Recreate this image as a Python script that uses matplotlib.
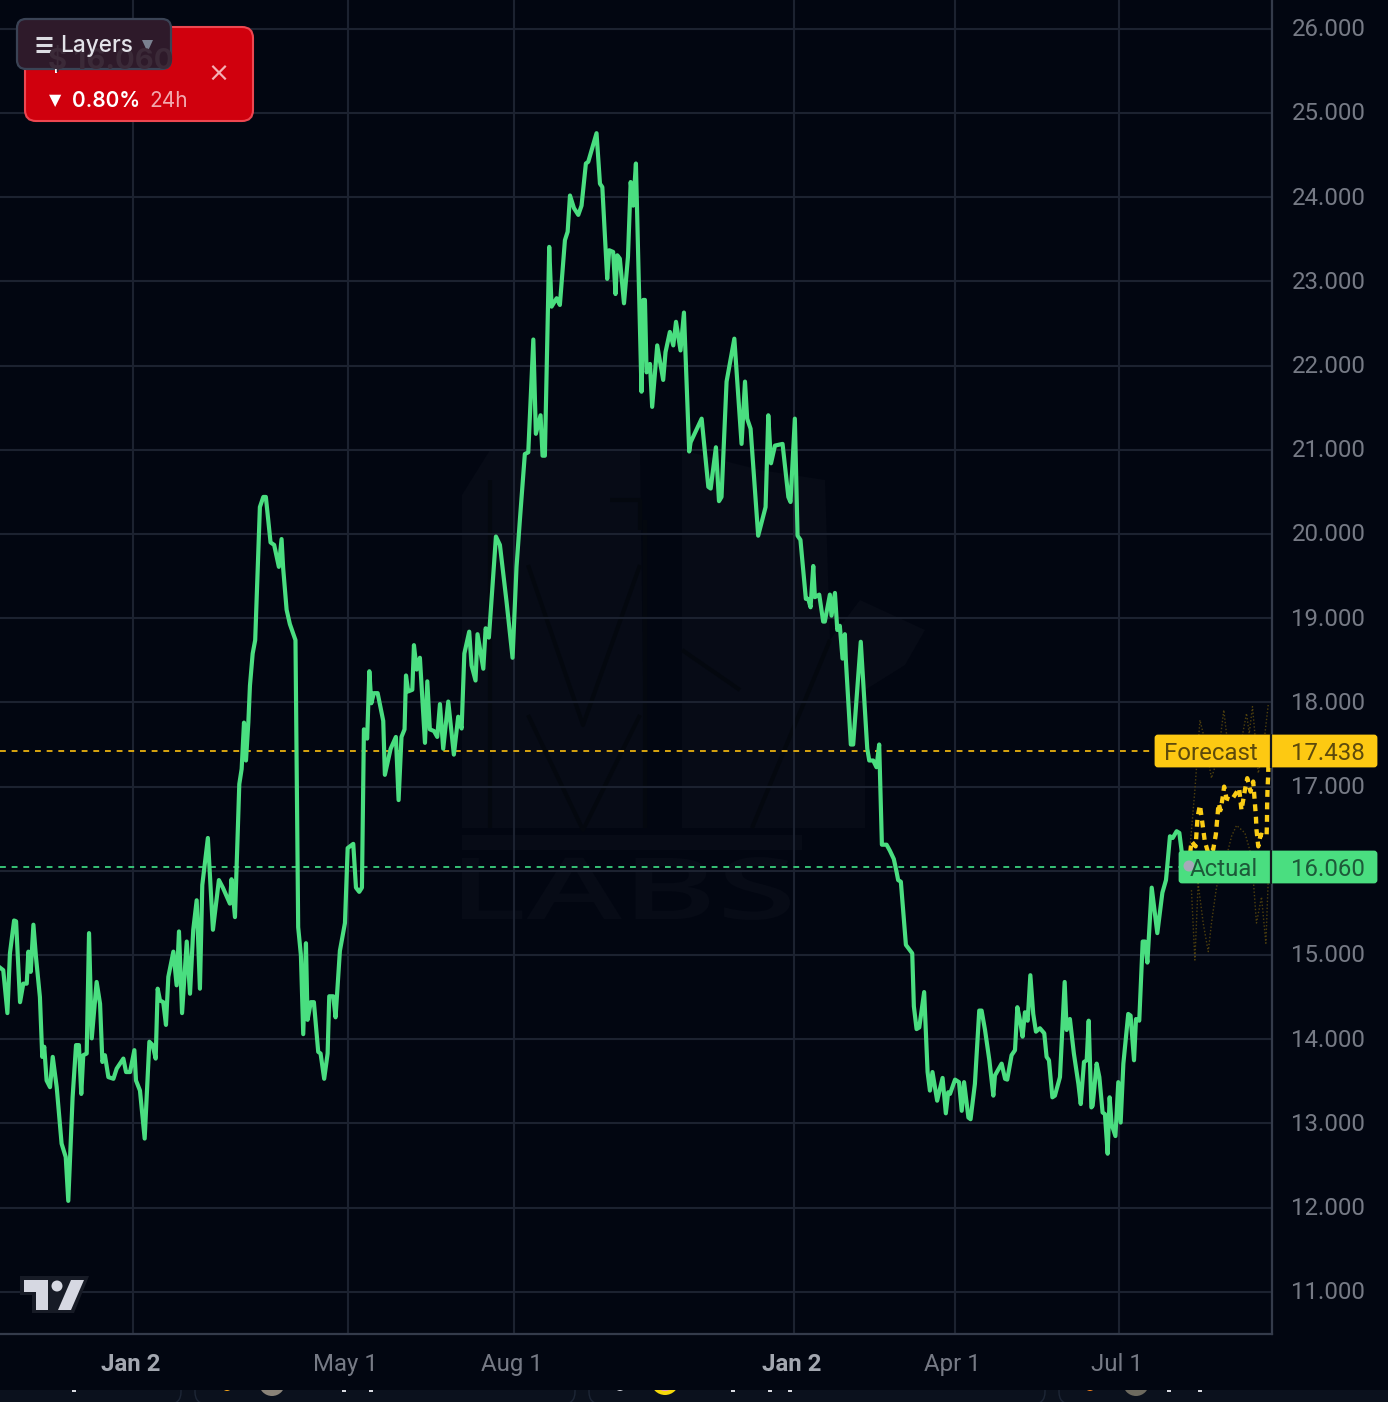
import matplotlib
matplotlib.use('Agg')
import matplotlib.pyplot as plt
from matplotlib.font_manager import FontProperties
from matplotlib.patches import FancyBboxPatch, PathPatch, Polygon, Circle, Rectangle
from matplotlib.textpath import TextPath
from matplotlib.transforms import Affine2D, ScaledTranslation

# days since the first Jan 2 tick, price
actual_days = [-73.6, -71.8, -69.5, -68.1, -65.8, -64.7, -62.5, -60.7, -58.8, -57.9, -56.6, -55.1, -53.7, -51.5, -50.2, -49.1, -47.8, -45.9, -44.4, -42.2, -39.5, -37.2, -35.8, -33.4, -31.5, -29.9, -28.6, -27.5, -25.6, -24.3, -22.8, -20.1, -18.2, -16.9, -15.5, -13.6, -10.8, -9.0, -5.3, -3.8, -1.6, 0.8, 1.7, 3.9, 6.5, 9.1, 10.9, 12.6, 13.7, 15.0, 16.8, 18.3, 19.6, 22.4, 24.2, 25.5, 27.2, 29.8, 31.6, 33.4, 35.3, 37.1, 38.4, 41.5, 44.3, 47.6, 49.8, 53.7, 54.6, 56.5,
               58.9, 60.2, 61.5, 62.6, 63.9, 64.8, 66.3, 67.7, 70.3, 72.2, 73.6, 76.2, 78.2, 80.8, 82.3, 83.2, 85.1, 86.9, 90, 91.5, 93, 94.3, 95.8, 96.7, 98.5, 100.2, 102.6, 103.9, 105.9, 107.8, 108.7, 110.9, 112.2, 114.6, 117.4, 118.9, 122, 123.5, 125.3, 126.8, 127.9, 129.7, 130.9, 132, 133.4, 135.5, 138.6, 139.5, 142.7, 145.6, 147.1, 148.7, 150.4, 151.2, 152.4, 154.7, 155.6, 157.1, 158.9, 161.7, 163, 164.4, 166.7, 168.5, 170, 171.8, 174.6, 177.7, 180.1, 182, 183.5, 186.2, 187.5, 189.7, 190.8, 194, 195.3, 197.1, 201, 203.2, 206.9, 210.2, 212.4, 214.3,
               217, 218.9, 221.7, 223.1, 225.7, 226.8, 228.1, 230.5, 231.8, 234.6, 236.4, 239.2, 240.7, 242, 244.2, 246.6, 248.4, 250.8, 252.1, 256.7, 258.6, 259.9, 262.6, 263.7, 265.9, 267.2, 268.2, 269.6, 271.9, 274.1, 275.6, 277, 278.5, 281.6, 282.6, 283.5, 284.4, 286.3, 287.5, 290.3, 293.6, 294.9, 297.3, 299.2, 300.7, 303.2, 305.1, 308, 308.8, 314.9, 318.6, 319.9, 322.8, 324.5, 325.9, 328.7, 333, 337, 338.9, 340.1, 342, 346.2, 350.3, 351.8, 353.3, 355.5, 359.7, 362.9, 364.1, 366.5, 368, 369.6,
               372.6, 373.9, 375.2, 376.7, 377.6, 380, 382.2, 383.1, 385.9, 386.8, 388.7, 390, 391.4, 392.9, 394.2, 394.7, 397.5, 398.8, 403, 406.6, 407.7, 409.9, 411.7, 413.2, 414.7, 417.3, 419.1, 421.3, 422.8, 423.7, 425.2, 428, 431.5, 432.4, 433.9, 435.4, 438.1, 440, 441.3, 442.7, 445.3, 448.3, 450.1, 451.4, 452.4, 455.2, 457.4, 458.9, 460.2, 462.6, 463.8, 466.2, 468.6, 469.9, 471.8, 474.2, 476.4, 477.3, 481, 482.9, 484.1, 486.5, 488.4, 489.7, 491.2, 492.6, 493.9, 495.4, 496.9, 498.5, 500, 502.2, 504.6, 505.9, 507.2, 509.1, 510.5, 513.3, 515.9, 517, 518.8, 521, 523.5, 524.8, 526.6, 528.1, 529.2, 530.7, 531.4, 533.6, 535.1, 536.9, 538.2, 539.7, 540.8, 541.9, 544, 545.6, 546.9, 548.4, 551.1, 552.4, 554.3, 555.4, 557.2, 559.1, 560.4, 561.7, 564.1, 567.2, 570, 572, 574.2, 575.7, 577.9, 579.4, 580.7, 584.7]
actual_price = [14.85, 14.82, 14.31, 15.02, 15.41, 15.40, 14.44, 14.66, 14.66, 15.04, 14.80, 15.36, 14.98, 14.50, 13.79, 13.91, 13.51, 13.43, 13.79, 13.43, 12.76, 12.60, 12.08, 13.31, 13.93, 13.93, 13.35, 13.81, 13.83, 15.26, 14.01, 14.68, 14.42, 13.73, 13.81, 13.55, 13.53, 13.65, 13.77, 13.61, 13.61, 13.87, 13.51, 13.39, 12.82, 13.97, 13.93, 13.77, 14.60, 14.46, 14.44, 14.17, 14.74, 15.04, 14.64, 15.28, 14.31, 15.16, 14.54, 15.30, 15.65, 14.60, 15.83, 16.39, 15.30, 15.89, 15.80, 15.61, 15.90, 15.45,
                17.03, 17.21, 17.76, 17.31, 17.76, 18.20, 18.58, 18.74, 20.32, 20.44, 20.44, 19.90, 19.87, 19.61, 19.94, 19.59, 19.10, 18.93, 18.74, 15.33, 15.0, 14.06, 15.14, 14.23, 14.44, 14.44, 13.85, 13.83, 13.53, 13.83, 14.51, 14.51, 14.26, 15.05, 15.38, 16.27, 16.32, 15.80, 15.75, 15.80, 17.68, 17.57, 18.37, 17.99, 18.11, 18.11, 17.78, 17.14, 17.45, 17.59, 16.84, 17.59, 17.68, 18.32, 18.13, 18.15, 18.68, 18.39, 18.53, 17.52, 18.25, 17.68, 17.66, 17.59, 17.98, 17.45, 18.01, 17.38, 17.83, 17.69, 18.58, 18.84, 18.44, 18.26, 18.81, 18.40, 18.88, 18.77, 19.97, 19.87, 19.19, 18.53, 19.61, 20.18,
                20.95, 20.97, 22.31, 21.19, 21.41, 20.93, 20.93, 23.41, 22.70, 22.80, 22.72, 23.49, 23.59, 24.02, 23.87, 23.79, 23.90, 24.40, 24.42, 24.76, 24.16, 24.12, 23.03, 23.37, 23.35, 22.85, 23.31, 23.27, 22.74, 23.29, 24.18, 23.90, 24.40, 21.69, 22.78, 22.78, 21.92, 22.02, 21.51, 22.24, 21.83, 22.16, 22.40, 22.24, 22.52, 22.18, 22.63, 20.98, 21.09, 21.37, 20.56, 20.54, 21.03, 20.39, 20.44, 21.81, 22.32, 21.07, 21.81, 21.37, 21.25, 19.98, 20.32, 21.41, 20.84, 21.05, 21.07, 20.44, 20.38, 21.37, 19.98, 19.93,
                19.23, 19.23, 19.13, 19.62, 19.25, 19.28, 18.96, 18.96, 19.28, 19.03, 19.30, 18.86, 18.91, 18.52, 18.81, 18.52, 17.50, 17.50, 18.72, 17.45, 17.31, 17.31, 17.23, 17.50, 16.31, 16.31, 16.24, 16.14, 15.99, 15.89, 15.87, 15.12, 15.02, 14.39, 14.12, 14.14, 14.56, 13.61, 13.39, 13.61, 13.27, 13.54, 13.12, 13.37, 13.35, 13.52, 13.49, 13.15, 13.49, 13.07, 13.05, 13.47, 14.34, 14.34, 14.11, 13.75, 13.33, 13.57, 13.71, 13.53, 13.52, 13.81, 13.87, 14.38, 14.22, 14.03, 14.32, 14.22, 14.76, 14.30, 14.09, 14.13, 14.07, 13.79, 13.75, 13.31, 13.33, 13.55, 14.68, 14.11, 14.24, 13.83, 13.47, 13.23, 13.73, 13.75, 14.22, 13.19, 13.21, 13.71, 13.55, 13.13, 13.11, 12.64, 13.31, 12.99, 12.85, 13.49, 13.01, 13.71, 14.30, 14.28, 13.75, 14.24, 14.22, 15.16, 15.16, 14.91, 15.80, 15.26, 15.74, 15.89, 16.41, 16.39, 16.47, 16.45, 16.23, 16.07]

forecast_days = [584.7, 586.1, 588.4, 589.5, 590.8, 592.2, 593.5, 595.4, 598.1, 599.6, 600.4, 601.1, 602.2, 603.3, 604.2, 605.5, 608.3, 612.5, 613.8, 615.7, 617, 618.8, 620.3, 621.8, 622.1, 623.1, 624.4, 627.7, 627.9, 628, 628.2, 628.6, 628.8]
forecast_price = [16.07, 16.35, 16.29, 16.64, 16.78, 16.56, 16.35, 16.21, 16.25, 16.43, 16.62, 16.80, 16.72, 16.86, 17.0, 16.86, 16.84, 16.98, 16.72, 16.96, 17.10, 16.94, 17.06, 16.64, 16.49, 16.29, 16.43, 16.41, 16.56, 16.78, 16.96, 17.14, 17.42]

upper_days = [585.2, 588, 590.8, 593.5, 597.2, 600.9, 604, 607.4, 611.1, 616.6, 618.1, 619.9, 623.1, 625.8, 628.6]
upper_price = [16.25, 16.96, 17.79, 17.55, 17.10, 17.36, 17.91, 17.28, 17.24, 17.87, 17.63, 17.95, 17.16, 17.44, 17.97]
lower_days = [586.1, 588, 589.8, 592.6, 595.4, 597.2, 600, 604.6, 608.3, 611.1, 615.7, 619.4, 622.1, 624.9, 627.3, 629.1]
lower_price = [15.77, 14.94, 15.85, 15.38, 15.04, 15.38, 15.81, 16.09, 16.41, 16.54, 16.45, 16.17, 15.38, 15.69, 15.14, 16.17]

price_ticks = list(range(11, 27))
date_ticks = [0, 119, 211, 366, 455, 546]
date_labels = ['Jan 2', 'May 1', 'Aug 1', 'Jan 2', 'Apr 1', 'Jul 1']
actual_level = 16.05      # where the dotted lines sit in the picture
forecast_level = 17.425

BG = '#020611'
GRID = '#1c2230'
GREEN = '#4ade80'
YELLOW = '#facc15'
W, H = 1388, 1402

plt.rcParams['font.family'] = ['Roboto', 'DejaVu Sans']

fig = plt.figure(figsize=(W / 100, H / 100), dpi=100, facecolor=BG)

# back layer and front layer are both in pixels, the chart sits between them
back = fig.add_axes([0, 0, 1, 1], zorder=0)
front = fig.add_axes([0, 0, 1, 1], zorder=2)
for a in (back, front):
    a.set_xlim(0, W)
    a.set_ylim(H, 0)
    a.axis('off')
back.set_facecolor(BG)

# faint logo watermark
WM = '#070b16'
CUT = '#04080f'
back.add_patch(Polygon([(462, 495), (490, 450), (560, 450), (640, 450), (645, 828), (462, 828)], fc=WM, ec='none'))
back.add_patch(Polygon([(682, 450), (760, 470), (825, 480), (830, 640), (860, 600), (925, 630), (905, 665), (865, 690), (865, 828), (682, 828)], fc=WM, ec='none'))
back.add_patch(Rectangle((462, 835), 340, 15, fc=WM, ec='none'))
for xs, ys in [([528, 583, 640], [565, 725, 565]), ([528, 583, 640], [715, 830, 715]),
               ([490, 490], [480, 828]), ([645, 645], [520, 828]), ([682, 740], [650, 690]),
               ([610, 640, 640], [500, 500, 530]), ([752, 830], [828, 640])]:
    back.plot(xs, ys, color=CUT, lw=3, solid_capstyle='butt')

# LABS is wider than any installed font, so stretch the outline to its box
labs = TextPath((0, 0), 'LABS', size=100, prop=FontProperties(family='Open Sans', weight='semibold'))
ext = labs.get_extents()
stretch = Affine2D().translate(-ext.x0, -ext.y0).scale(328 / ext.width, -63 / ext.height).translate(462, 920)
back.add_patch(PathPatch(stretch.transform_path(labs), fc=WM, ec='none'))

ax = fig.add_axes([0, 68 / H, 1272 / W, 1334 / H], zorder=1)
ax.patch.set_alpha(0)
ax.set_xlim(-73.6, 630.7)
ax.set_ylim(10.499, 26.342)
ax.set_yticks(price_ticks)
# 16.000 sits under the Actual tag in the picture
ax.set_yticklabels(['' if p == 16 else '%.3f' % p for p in price_ticks])
ax.set_xticks(date_ticks)
ax.set_xticklabels(date_labels)
ax.yaxis.tick_right()
ax.tick_params(axis='y', length=0, pad=14, labelsize=17.3, labelcolor='#767a85')
ax.tick_params(axis='x', length=0, pad=14, labelsize=17.3, labelcolor='#767a85')
for lab in ax.get_yticklabels():
    lab.set_transform(lab.get_transform() + ScaledTranslation(0, 1.6 / 100, fig.dpi_scale_trans))
for lab in ax.get_xticklabels():
    lab.set_transform(lab.get_transform() + ScaledTranslation(-2 / 100, 0, fig.dpi_scale_trans))
for i in (0, 3):
    lab = ax.get_xticklabels()[i]
    lab.set_color('#a3a7b0')
    lab.set_fontweight('bold')
ax.grid(True, color=GRID, lw=1.5)
ax.set_axisbelow(True)
for s in ('top', 'left'):
    ax.spines[s].set_visible(False)
for s in ('right', 'bottom'):
    ax.spines[s].set_color('#343b4b')
    ax.spines[s].set_linewidth(1.6)

ax.axhline(forecast_level, color='#d9a50f', lw=1.4, ls=(0, (3, 3)), zorder=3)
ax.axhline(actual_level, color='#37c276', lw=1.4, ls=(0, (3, 3)), zorder=3)
ax.plot(upper_days, upper_price, color='#4f400e', lw=1.0, ls=(0, (1, 1.5)), zorder=3)
ax.plot(lower_days, lower_price, color='#4f400e', lw=1.0, ls=(0, (1, 1.5)), zorder=3)
ax.plot(forecast_days, forecast_price, color=YELLOW, lw=3.1, ls=(0, (1.6, 1.3)), zorder=4)
ax.plot(actual_days, actual_price, color=GREEN, lw=3.0, solid_joinstyle='round', zorder=5)

# price tags on the right
for (y0, col, name, val, txt) in [(734, '#fdc912', 'Forecast', '17.438', '#5d4a0c'),
                                  (850, GREEN, 'Actual', '16.060', '#1d5a39')]:
    x0 = 1154 if name == 'Forecast' else 1178
    front.add_patch(FancyBboxPatch((x0 + 2, y0 + 2), 1378 - x0 - 4, 30, boxstyle='round,pad=0,rounding_size=2',
                                   fc=col, ec=col, lw=2))
    front.plot([1271, 1271], [y0, y0 + 34], color='#14181f', lw=1.6, solid_capstyle='butt')
    front.text(1258, y0 + 20, name, color=txt, fontsize=17.3, ha='right', va='center')
    front.text(1365, y0 + 20, val, color=txt, fontsize=17.3, ha='right', va='center')
front.add_patch(Circle((1189, 866), 5.5, fc='#a7a9b8', ec='none'))

# red alert card and the Layers button over it
front.add_patch(FancyBboxPatch((25, 27), 228, 94, boxstyle='round,pad=0,rounding_size=11',
                               fc='#d0000d', ec='#ee4650', lw=1.5))
front.plot([56, 56], [69, 73], color='white', lw=1.4, solid_capstyle='butt')
front.text(49, 101, '\u25bc', color='white', fontsize=11.5, ha='left', va='center', family='DejaVu Sans')
front.text(72, 101, '0.80%', color='white', fontsize=15, ha='left', va='center', family='Inter', fontweight='semibold')
front.text(149, 101, '24h', color='#f2a9ae', fontsize=15, ha='left', va='center', family='Inter')
front.text(218, 75, '\u00d7', color='#f4b0b4', fontsize=19, ha='center', va='center', family='DejaVu Sans')
front.add_patch(FancyBboxPatch((17, 19), 154, 50, boxstyle='round,pad=0,rounding_size=9',
                               fc='#2e1a2a', ec='#3a4355', lw=1.6))
front.text(48, 62, '$ 16.060', color='#3b2a38', fontsize=21, ha='left', va='center', family='Inter', fontweight='bold',
           clip_on=True, clip_path=Rectangle((17, 19), 154, 50, transform=front.transData))
for y in (38, 45, 51):
    front.plot([36, 52], [y, y], color='#dcdce2', lw=2.2, solid_capstyle='butt')
front.text(60, 46, 'Layers', color='#e2e2e8', fontsize=16.3, ha='left', va='center', family='Inter', fontweight='medium')
front.add_patch(Polygon([(142, 40), (153, 40), (147.5, 52)], fc='#7a8190', ec='none'))

# TradingView mark
front.add_patch(Polygon([(20, 1276), (89, 1276), (74, 1313), (32, 1313), (32, 1295), (20, 1295)], fc='#171b26', ec='none'))
front.add_patch(Polygon([(24.5, 1280), (48, 1280), (48, 1310), (36, 1310), (36, 1292), (24.5, 1292)], fc='#d6d8e2', ec='none'))
front.add_patch(Circle((57, 1286), 5.5, fc='#d6d8e2', ec='none'))
front.add_patch(Polygon([(71, 1280), (84, 1280), (71, 1310), (58, 1310)], fc='#d6d8e2', ec='none'))

# strip of cards cut off at the bottom edge
strip = Rectangle((0, 1390), W, 12, transform=front.transData)
front.add_patch(Rectangle((0, 1390), W, 12, fc='#0b111d', ec='none'))
for x0, x1 in [(-60, 181), (195, 575), (589, 1045), (1059, 1440)]:
    card = FancyBboxPatch((x0, 1360), x1 - x0, 44, boxstyle='round,pad=0,rounding_size=12',
                          fc='#0b111d', ec='#1d2636', lw=1)
    front.add_patch(card)
    card.set_clip_path(strip)
for x, y, r, c in [(227, 1386, 5, '#f2a31a'), (272, 1383, 13, '#8a8378'), (665, 1381, 14, '#f5d90a'),
                   (665, 1381, 10, '#e58fc0'), (1090, 1386, 5, '#ef7d1a'), (1136, 1383, 13, '#6d6a5f'),
                   (620, 1386, 5, '#c9ccd4')]:
    dot = Circle((x, y), r, fc=c, ec='none')
    front.add_patch(dot)
    dot.set_clip_path(strip)
for x in (74, 344, 371, 733, 770, 790, 1169, 1200):
    tick = Rectangle((x - 2, 1390), 4, 1.6, fc='#d8dae0', ec='none')
    front.add_patch(tick)

fig.savefig('out.png', dpi=100, facecolor=BG)
